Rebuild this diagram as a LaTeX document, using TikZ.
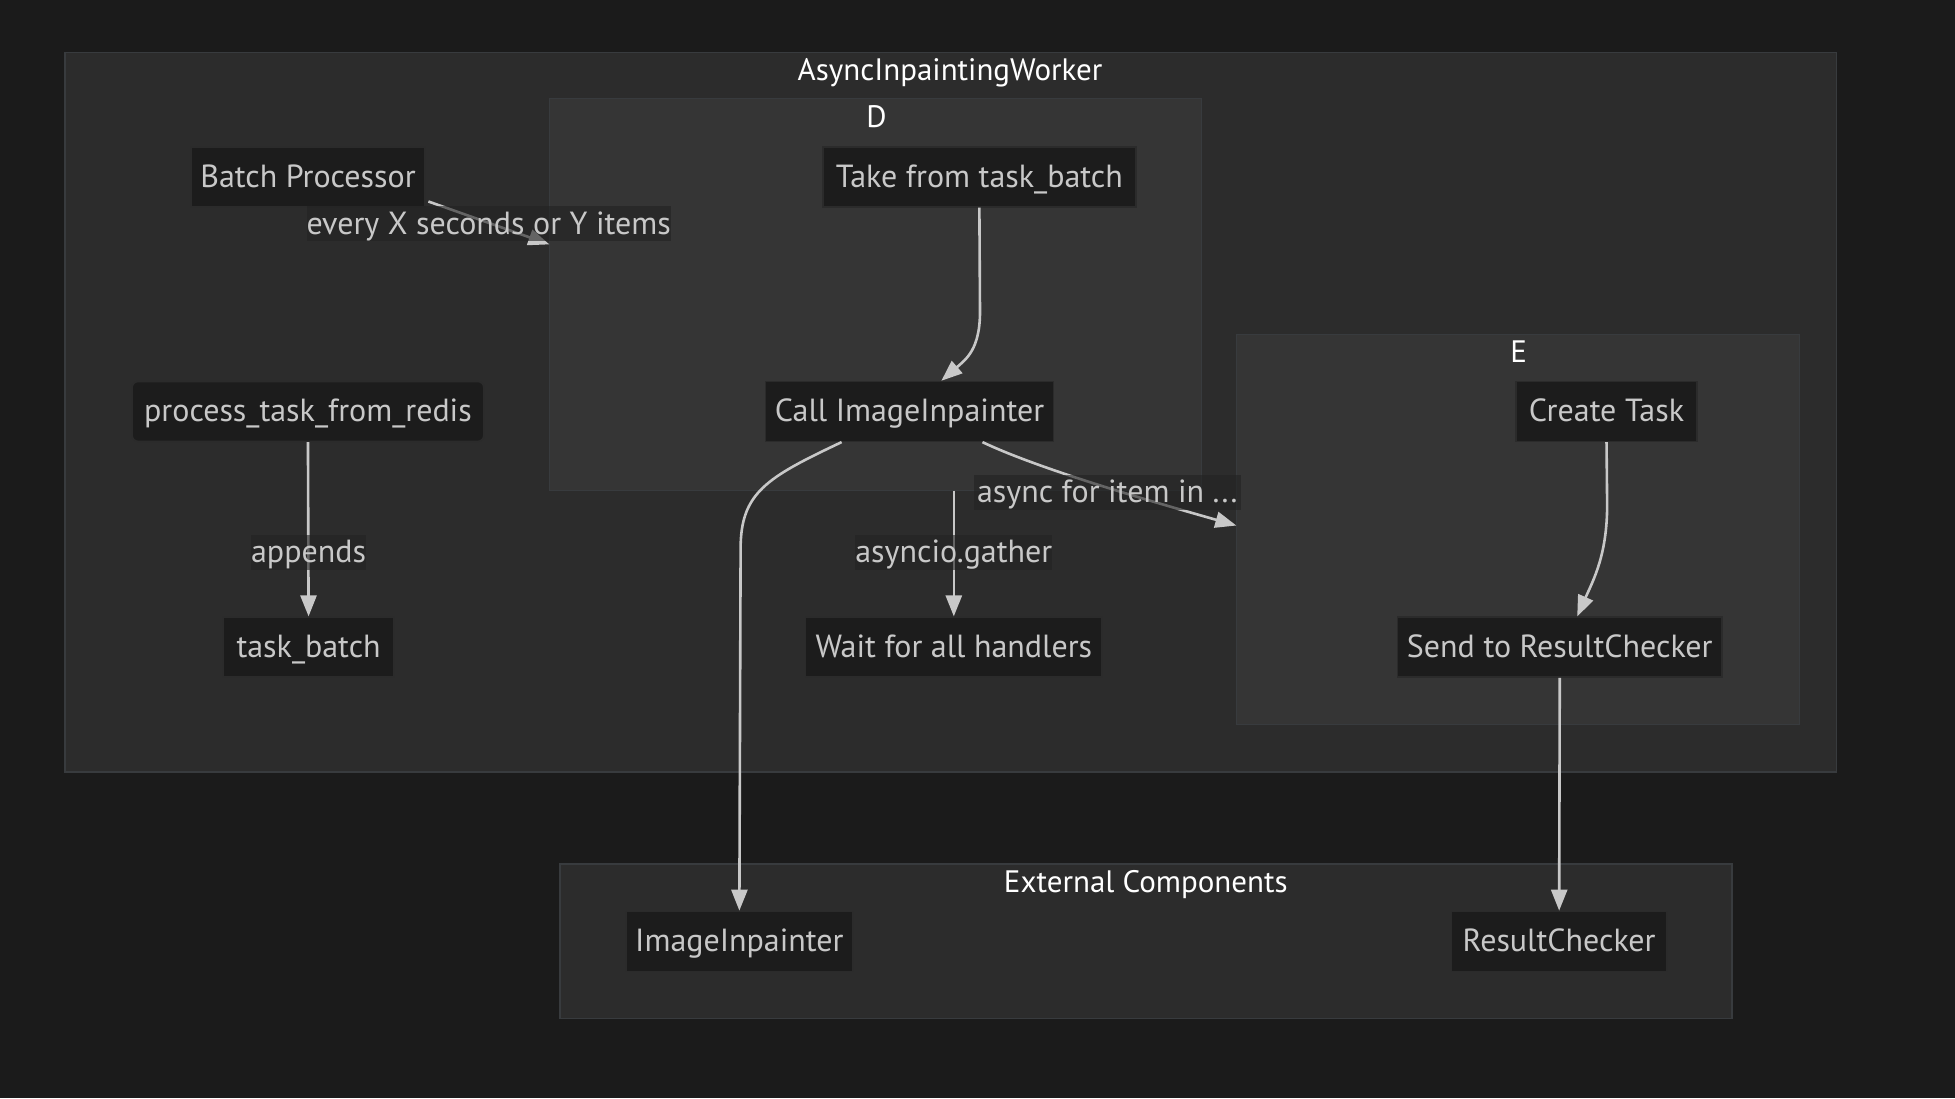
\documentclass[tikz,border=0pt]{standalone}
\usepackage{fontspec}
\setmainfont{PT Sans}
\usetikzlibrary{arrows.meta,calc}
\definecolor{bgc}{HTML}{1B1B1B}
\definecolor{clA}{HTML}{2C2C2C}
\definecolor{clB}{HTML}{353535}
\definecolor{clBorder}{HTML}{383B3E}
\definecolor{ndFill}{HTML}{1C1C1C}
\definecolor{ndBorder}{HTML}{2B2B2B}
\definecolor{txt}{HTML}{C8C8C8}
\definecolor{edgec}{HTML}{C8C8C8}
\definecolor{lblbg}{HTML}{222222}
\def\pp{1.2468pt}
\begin{document}
\begin{tikzpicture}[x=1.2468pt,y=-1.2468pt,
  nd/.style={draw=ndBorder, line width=1.5pt, fill=ndFill, text=txt,
    font=\fontsize{32}{36}\selectfont, inner sep=0pt, minimum height={48*\pp},
    text height=25pt, text depth=4pt},
  clouter/.style={draw=clBorder, line width=1.5pt, fill=clA, inner sep=0pt},
  clinner/.style={draw=clBorder, line width=1pt, fill=clB, inner sep=0pt},
  ctitle/.style={text=white, font=\fontsize{31}{36}\selectfont, inner sep=0pt,
    text height=25pt, text depth=4pt},
  edge/.style={draw=edgec, line width=2.6pt, -{Triangle[length=21pt,width=16pt]}},
  elabel/.style={fill=lblbg, fill opacity=0.6, text opacity=1, text=txt,
    font=\fontsize{32}{36}\selectfont, inner sep=0pt, minimum height={28*\pp},
    text height=25pt, text depth=4pt}
]
\useasboundingbox (0,0) rectangle (1568,881);
\fill[bgc] (0,0) rectangle (1568,881);

% clusters
\node[clouter, minimum width={1421*\pp}, minimum height={577*\pp}] (W) at (762.5,330.5) {};
\node[clinner, minimum width={523*\pp}, minimum height={314*\pp}] (D) at (702.5,236) {};
\node[clinner, minimum width={451*\pp}, minimum height={313*\pp}] (E) at (1217.5,424.5) {};
\node[clouter, minimum width={940*\pp}, minimum height={124*\pp}] (X) at (919,755) {};
\node[ctitle] (tW) at (762,56) {AsyncInpaintingWorker};
\node[ctitle] (tD) at (703,94) {D};
\node[ctitle] (tE) at (1218,282) {E};
\node[ctitle] (tX) at (919,707) {External Components};

% nodes
\node[nd, minimum width={188*\pp}] (bp) at (247,142) {Batch Processor};
\node[nd, minimum width={251*\pp}] (take) at (785.5,142) {Take from task\_batch};
\node[nd, minimum width={282*\pp}, rounded corners=6pt] (proc) at (247,330) {process\_task\_from\_redis};
\node[nd, minimum width={231*\pp}] (call) at (729.5,330) {Call ImageInpainter};
\node[nd, minimum width={145*\pp}] (create) at (1288.5,330) {Create Task};
\node[nd, minimum width={137*\pp}] (tb) at (247.5,519) {task\_batch};
\node[nd, minimum width={238*\pp}] (wait) at (765,519) {Wait for all handlers};
\node[nd, minimum width={260*\pp}] (send) at (1251,519) {Send to ResultChecker};
\node[nd, minimum width={182*\pp}] (img) at (593,755) {ImageInpainter};
\node[nd, minimum width={173*\pp}] (rc) at (1250.5,755) {ResultChecker};

% edges
\draw[edge] ([xshift=2*\pp,yshift=5*\pp]bp.south east) -- ([yshift=40*\pp]D.west);
\draw[edge] (take.south) -- (786,250) .. controls (786,280) and (775,288) .. ([xshift=25.5*\pp]call.north);
\draw[edge] (proc.south) -- (tb.north);
\draw[edge] ([xshift=-54.5*\pp]call.south) .. controls (615,383) and (594,395) .. (594,440) -- (img.north);
\draw[edge] ([xshift=58.5*\pp]call.south) .. controls (835,377) and (930,404) .. ([yshift=3*\pp]E.west);
\draw[edge] ([xshift=62.5*\pp]D.south) -- (wait.north);
\draw[edge] (create.south) -- (1289,405) .. controls (1289,445) and (1278,465) .. ([xshift=14*\pp]send.north);
\draw[edge] (send.south) -- (rc.north);

% edge labels
\node[elabel, minimum width={284*\pp}] (l1) at (392,179.5) {every X seconds or Y items};
\node[elabel, minimum width={88*\pp}] (l2) at (247.5,443) {appends};
\node[elabel, minimum width={214*\pp}] (l3) at (888,395) {async for item in ...};
\node[elabel, minimum width={156*\pp}] (l4) at (765,443) {asyncio.gather};
\end{tikzpicture}
\end{document}
